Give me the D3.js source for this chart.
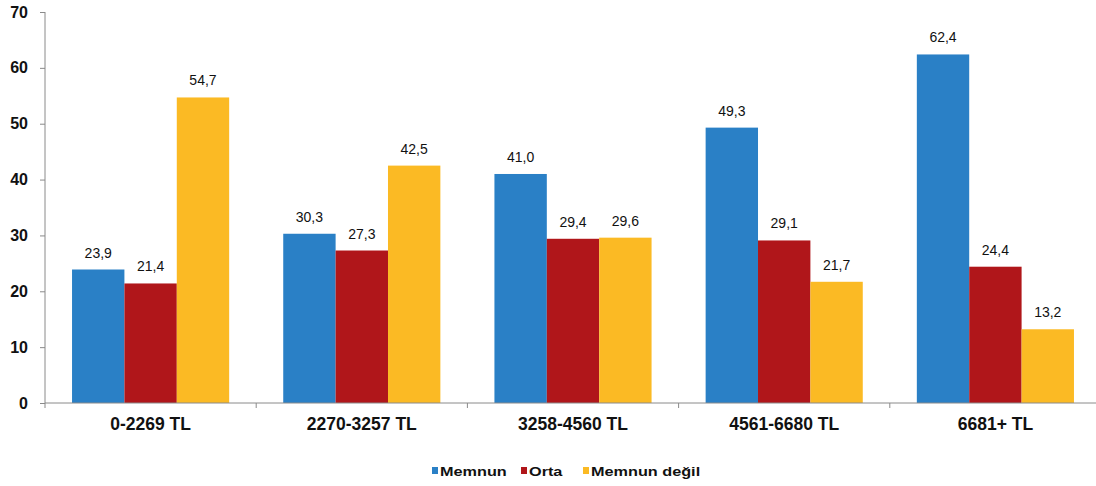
<!DOCTYPE html>
<html><head><meta charset="utf-8">
<script src="https://cdn.jsdelivr.net/npm/d3@7"></script>
<style>body{margin:0;background:#fff}svg{display:block}</style>
</head><body>
<svg id="c" width="1096" height="486"></svg>
<script>
const categories = ["0-2269 TL","2270-3257 TL","3258-4560 TL","4561-6680 TL","6681+ TL"];
const seriesNames = ["Memnun","Orta","Memnun değil"];
const memnun = [23.9,30.3,41.0,49.3,62.4];
const orta = [21.4,27.3,29.4,29.1,24.4];
const memnunDegil = [54.7,42.5,29.6,21.7,13.2];
const yTicks = [0,10,20,30,40,50,60,70];
const colors = ["#2a80c6","#b0161a","#fbba24"];

const seriesValues = [memnun, orta, memnunDegil];
const FONT = "Liberation Sans, Arial, sans-serif";
const svg = d3.select("#c");
const x0 = d3.scaleBand().domain(categories).range([45, 1101]).padding(0);
const bw = x0.bandwidth();
const x1 = d3.scaleBand().domain(seriesNames).range([bw*0.128, bw*0.872]).padding(0);
const y = d3.scaleLinear().domain([0,70]).range([403,12]);
const fmt = v => v.toFixed(1).replace(".", ",");

// bars
categories.forEach((c, i) => {
  seriesNames.forEach((s, j) => {
    const v = seriesValues[j][i];
    svg.append("rect")
      .attr("x", x0(c) + x1(s))
      .attr("y", y(v))
      .attr("width", x1.bandwidth())
      .attr("height", y(0) - y(v))
      .attr("fill", colors[j]);
    svg.append("text")
      .attr("x", x0(c) + x1(s) + x1.bandwidth()/2)
      .attr("y", y(v) - 12)
      .attr("text-anchor","middle")
      .attr("font-family", FONT)
      .attr("font-size", 14)
      .attr("fill","#111")
      .text(fmt(v));
  });
});

// y axis
const yAxis = d3.axisLeft(y).tickValues(yTicks).tickSize(5).tickPadding(12).tickFormat(d3.format("d"));
const gy = svg.append("g").attr("transform","translate(45,0)").call(yAxis);
gy.select(".domain").attr("stroke","#8a8a8a").attr("d","M0,12V403");
gy.selectAll(".tick line").attr("stroke","#8a8a8a");
gy.selectAll(".tick text").attr("font-family", FONT)
  .attr("font-size",16).attr("font-weight","bold").attr("fill","#111");

// x axis
const xAxis = d3.axisBottom(x0).tickSize(0).tickPadding(15);
const gx = svg.append("g").attr("transform","translate(0,403)").call(xAxis);
gx.select(".domain").attr("stroke","#8a8a8a").attr("d","M45,0H1101");
gx.selectAll(".tick text").attr("font-family", FONT)
  .attr("font-size",17.5).attr("font-weight","bold").attr("fill","#111");
// boundary ticks
svg.append("g").selectAll("line").data(categories).join("line")
  .attr("x1", d => x0(d)).attr("x2", d => x0(d))
  .attr("y1", 403).attr("y2", 408).attr("stroke","#8a8a8a");

// legend
const legendX = [432, 521, 583];
const lg = svg.append("g");
seriesNames.forEach((s, j) => {
  lg.append("rect").attr("x", legendX[j]).attr("y", 467).attr("width",6).attr("height",7).attr("fill",colors[j]);
  lg.append("text")
    .attr("transform", `translate(${legendX[j] + 8},476) scale(1.25,1)`)
    .attr("font-family", FONT)
    .attr("font-size",13).attr("font-weight","bold").attr("fill","#111")
    .text(s);
});
</script>
</body></html>
